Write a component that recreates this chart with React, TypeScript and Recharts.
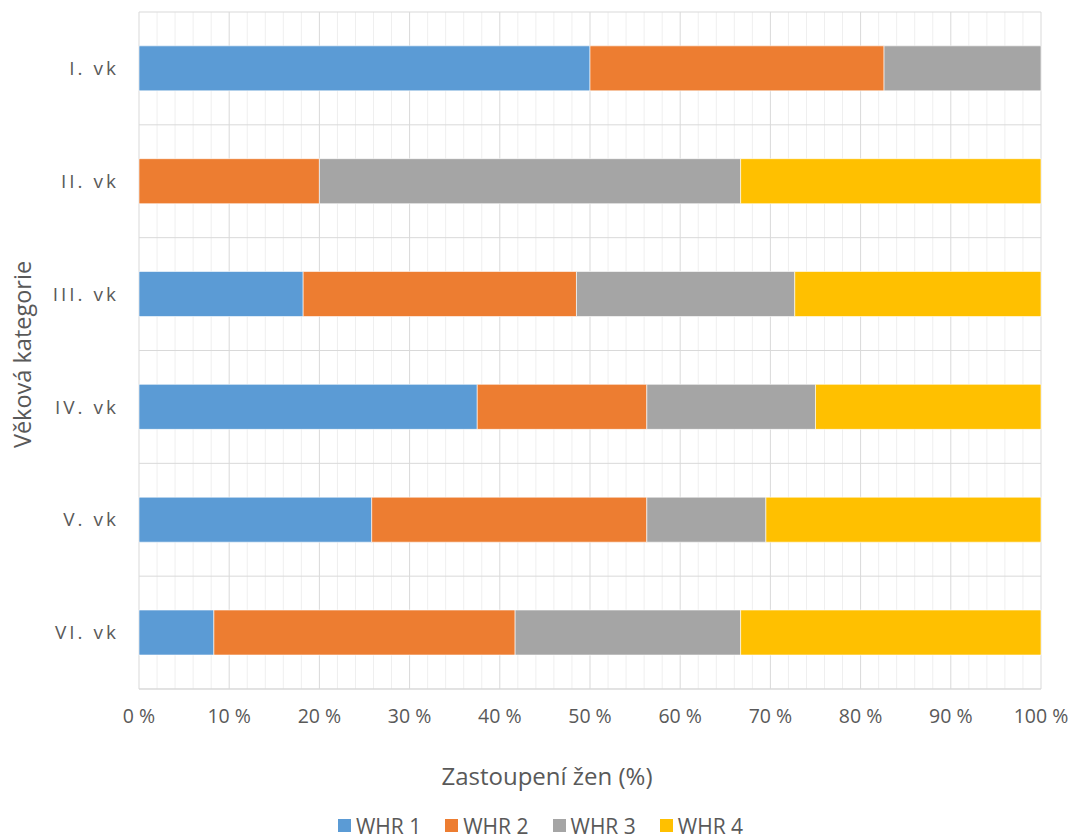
import React from "react";
import {
  Bar,
  BarChart,
  CartesianGrid,
  Legend,
  XAxis,
  YAxis,
} from "recharts";

const categories = ["I. vk", "II. vk", "III. vk", "IV. vk", "V. vk", "VI. vk"];
const whr1 = [50, 0, 18.2, 37.5, 25.8, 8.3];
const whr2 = [32.6, 20, 30.3, 18.8, 30.5, 33.4];
const whr3 = [17.4, 46.7, 24.2, 18.7, 13.2, 25];
const whr4 = [0, 33.3, 27.3, 25, 30.5, 33.3];
const xTicks = [0, 10, 20, 30, 40, 50, 60, 70, 80, 90, 100];
const minorTicks = [2, 4, 6, 8, 12, 14, 16, 18, 22, 24, 26, 28, 32, 34, 36, 38, 42, 44, 46, 48, 52, 54, 56, 58, 62, 64, 66, 68, 72, 74, 76, 78, 82, 84, 86, 88, 92, 94, 96, 98];

const series = [
  { key: "whr1", name: "WHR 1", color: "#5B9BD5" },
  { key: "whr2", name: "WHR 2", color: "#ED7D31" },
  { key: "whr3", name: "WHR 3", color: "#A5A5A5" },
  { key: "whr4", name: "WHR 4", color: "#FFC000" },
];

const data = categories.map((name, i) => ({
  name,
  whr1: whr1[i],
  whr2: whr2[i],
  whr3: whr3[i],
  whr4: whr4[i],
}));

const FONT = "'Open Sans', sans-serif";
const TEXT = "#595959";

const xAt = (offset: any, v: number) => offset.left + (offset.width * v) / 100;

const LegendContent = ({ payload }: any) => (
  <div
    style={{
      display: "flex",
      justifyContent: "center",
      height: 41,
      paddingTop: 12,
      paddingLeft: 40,
      boxSizing: "border-box",
      fontFamily: FONT,
      fontSize: 21,
      color: TEXT,
      lineHeight: "22px",
    }}
  >
    {(payload || []).map((p: any) => (
      <div
        key={p.value}
        style={{ display: "flex", alignItems: "center", margin: "0 12px" }}
      >
        <span
          style={{
            width: 13,
            height: 13,
            background: p.color,
            marginRight: 5,
            display: "inline-block",
          }}
        />
        <span>{p.value}</span>
      </div>
    ))}
  </div>
);

const YTitle = ({ viewBox }: any) => {
  const { x, y, height } = viewBox;
  return (
    <text
      transform={`translate(${x + 22},${y + height / 2 + 4}) rotate(-90)`}
      textAnchor="middle"
      dominantBaseline="central"
      fontFamily={FONT}
      fontSize={23.5}
      fill={TEXT}
    >
      Věková kategorie
    </text>
  );
};

const XTitle = ({ viewBox }: any) => {
  const { x, y, width } = viewBox;
  return (
    <text
      x={x + width / 2 - 43}
      y={y + 86}
      textAnchor="middle"
      dominantBaseline="central"
      fontFamily={FONT}
      fontSize={24}
      fill={TEXT}
    >
      Zastoupení žen (%)
    </text>
  );
};

export default function App() {
  return (
    <div
      style={{
        position: "absolute",
        left: 0,
        top: 0,
        background: "#fff",
        width: 1073,
        height: 840,
        overflow: "hidden",
      }}
    >
      <BarChart
        width={1073}
        height={840}
        data={data}
        layout="vertical"
        barCategoryGap="30%"
        margin={{ top: 12, right: 32, left: 0, bottom: 0 }}
      >
        <CartesianGrid
          stroke="#efefef"
          horizontal={false}
          verticalCoordinatesGenerator={({ offset }: any) =>
            minorTicks.map((v) => xAt(offset, v))
          }
        />
        <CartesianGrid
          stroke="#d9d9d9"
          verticalCoordinatesGenerator={({ offset }: any) =>
            xTicks.map((v) => xAt(offset, v))
          }
          horizontalCoordinatesGenerator={({ offset }: any) =>
            categories
              .map((_, i) => offset.top + (offset.height * i) / categories.length)
              .concat([offset.top + offset.height])
          }
        />
        <XAxis
          type="number"
          domain={[0, 100]}
          ticks={xTicks}
          tickFormatter={(v) => `${v} %`}
          axisLine={{ stroke: "#d9d9d9" }}
          tickLine={false}
          tickMargin={14}
          height={110}
          tick={{ fontFamily: FONT, fontSize: 19.5, fill: TEXT }}
          label={<XTitle />}
        />
        <YAxis
          type="category"
          dataKey="name"
          width={139}
          axisLine={false}
          tickLine={false}
          tickMargin={14}
          tick={{ fontFamily: FONT, fontSize: 19, fill: TEXT, letterSpacing: 3 }}
          label={<YTitle />}
        />
        <Legend verticalAlign="bottom" content={<LegendContent />} />
        {series.map((s) => (
          <Bar
            key={s.key}
            dataKey={s.key}
            name={s.name}
            stackId="a"
            fill={s.color}
            stroke="#ffffff"
            strokeWidth={0.6}
            isAnimationActive={false}
          />
        ))}
      </BarChart>
    </div>
  );
}
